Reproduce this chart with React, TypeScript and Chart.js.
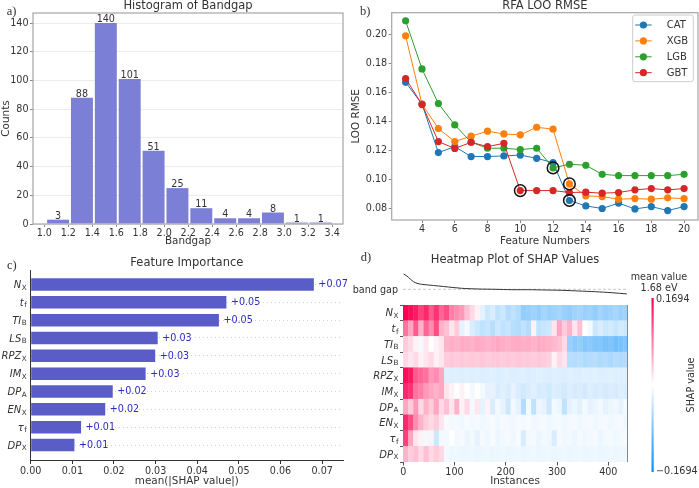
import React, { useEffect, useRef } from 'react';
import { Chart, registerables } from 'chart.js';

Chart.register(...registerables);

const SANS = '"DejaVu Sans", Verdana, sans-serif';
const SERIF = '"Liberation Serif", "DejaVu Serif", serif';
const INK = '#333333';

// ---------- a) Histogram of Bandgap ----------
const binCenters = [1.115, 1.314, 1.513, 1.712, 1.911, 2.11, 2.309, 2.508, 2.707, 2.906, 3.105, 3.304];
const binCounts = [3, 88, 140, 101, 51, 25, 11, 4, 4, 8, 1, 1];

// ---------- b) RFA LOO RMSE ----------
const featureNumbers = [3, 4, 5, 6, 7, 8, 9, 10, 11, 12, 13, 14, 15, 16, 17, 18, 19, 20];
const rmseCAT = [0.167, 0.152, 0.1187, 0.1228, 0.116, 0.116, 0.1164, 0.117, 0.1148, 0.1118, 0.0858, 0.0821, 0.0803, 0.084, 0.08, 0.0816, 0.0789, 0.0816];
const rmseXGB = [0.1989, 0.152, 0.1352, 0.1263, 0.13, 0.1334, 0.1315, 0.1309, 0.1361, 0.1348, 0.0972, 0.089, 0.0885, 0.0867, 0.0871, 0.0867, 0.0876, 0.0871];
const rmseLGB = [0.2092, 0.1762, 0.1524, 0.1377, 0.1258, 0.1217, 0.1217, 0.1208, 0.1217, 0.1082, 0.1107, 0.11, 0.1038, 0.1029, 0.1029, 0.1029, 0.1029, 0.1038];
const rmseGBT = [0.1696, 0.1517, 0.1263, 0.1215, 0.1258, 0.1228, 0.1251, 0.0926, 0.0926, 0.0926, 0.0913, 0.0915, 0.0908, 0.0913, 0.0931, 0.094, 0.0931, 0.094];
const modelNames = ['CAT', 'XGB', 'LGB', 'GBT'];
const modelColors = ['#1f77b4', '#ff7f0e', '#2ca02c', '#d62728'];
const selectedFeatureNumbers = [13, 13, 12, 10];

// ---------- c) Feature Importance ----------
const featureBase = ['N', 't', 'TI', 'LS', 'RPZ', 'IM', 'DP', 'EN', 'τ', 'DP'];
const featureSub = ['X', 'f', 'B', 'B', 'X', 'X', 'A', 'X', 'f', 'X'];
const importanceValues = [0.068, 0.047, 0.0452, 0.0305, 0.0299, 0.0276, 0.0197, 0.0179, 0.0121, 0.0105];

// ---------- d) Heatmap of SHAP values (blocks of 10 instances, value in % of 0.1694) ----------
const instanceCount = 437;
const heatBlockSize = 10;
const shapRange = 0.1694;
const meanBandgap = 1.68;
const outputInstance = [0.6, 7, 13.7, 20, 26.7, 36, 49, 69, 88, 114, 147, 179.5, 212, 244.5, 277, 309.6, 342, 374.6, 407, 436];
const outputBandgap = [2.445, 2.345, 2.195, 2.06, 1.98, 1.93, 1.895, 1.845, 1.795, 1.73, 1.695, 1.68, 1.66, 1.66, 1.645, 1.63, 1.595, 1.56, 1.51, 1.45];

const heatNx = [100, 95, 90, 75, 85, 65, 80, 60, 70, 50, 45, 40, 25, 15, 5, -10, -20, -15, -25, -20, -30, -25, -30, -42, -40, -38, -42, -36, -40, -38, -35, -40, -42, -38, -36, -40, -38, -42, -36, -40, -38, -35, -40, -38];
const heatTf = [55, 35, 65, 30, 60, 45, 70, 30, 25, 10, 20, -10, -5, -15, -20, -25, -22, -28, -20, -25, -22, -28, -30, -25, -30, 5, -25, -22, -20, 10, 35, 20, 30, 10, 25, 0, -5, -20, -15, -20, -18, -22, -18, -20];
const heatTI = [20, 15, 5, -5, 10, 0, 5, 10, 30, 32, 30, 33, 32, 30, 33, 32, 30, 32, 34, 32, 30, 32, 33, 31, 32, 30, 33, 32, 30, 28, 25, 15, -40, -45, -42, -48, -45, -50, -48, -52, -50, -55, -52, -50];
const heatLS = [15, 10, 15, 5, 10, 15, 5, 10, 20, 22, 20, 22, 20, 21, 20, 22, 20, 21, 22, 20, 21, 20, 22, 20, 21, 20, 22, 20, 18, 5, 15, 10, -28, -30, -28, -32, -30, -28, -32, -30, -33, -30, -32, -30];
const heatRPZ = [95, 90, 65, 60, 55, 40, 45, 35, -12, -13, -12, -14, -12, -13, -12, -14, -13, -12, -14, -13, -12, -14, -13, -12, -14, -13, -12, -13, -14, -12, -13, -14, -12, -13, -14, -12, -13, -12, -14, -13, -12, -14, -13, -12];
const heatIM = [85, 80, 55, 50, 40, 35, 30, 35, 10, 5, 0, 5, 0, -5, 0, -5, -10, -10, -15, -12, -15, -10, -15, -18, -15, -12, -16, -15, -18, -14, -15, -17, -14, -16, -15, -18, -14, -16, -15, -17, -15, -16, -14, -15];
const heatDPA = [35, 20, 40, 15, 30, 20, 35, 15, 25, 10, 30, 5, 15, -5, 10, -10, 5, -15, -5, -10, -20, -5, -10, -30, -5, -25, -8, -10, -20, -5, -8, -25, -10, -8, -12, -5, -10, -8, -5, -10, -8, -6, -10, -5];
const heatEN = [85, 70, 45, 30, 20, 15, 20, 10, -3, -5, -4, -6, -3, -5, -4, -6, -5, -3, -6, -4, -5, -6, -4, -5, -3, -6, -5, -4, -6, -5, -4, -6, -5, -4, -6, -5, -4, -6, -5, -4, -6, -5, -4, -6];
const heatTau = [75, 35, 10, 5, -5, 5, -20, -5, -5, 0, -5, -3, -8, -5, -10, -4, -6, -3, -8, -5, -4, -6, -3, -15, -5, -4, -8, -5, -6, -15, -4, -6, -5, -8, -4, -6, -5, -4, -8, -5, -4, -6, -5, -4];
const heatDPX = [30, 20, 25, 15, 25, 15, 20, 15, -5, -7, -6, -8, -7, -6, -8, -7, -6, -8, -7, -6, -8, -7, -6, -8, -7, -6, -8, -7, -6, -8, -7, -6, -8, -7, -6, -8, -7, -6, -8, -7, -6, -8, -7, -6];
const heatRows = [heatNx, heatTf, heatTI, heatLS, heatRPZ, heatIM, heatDPA, heatEN, heatTau, heatDPX];

// ---------- helpers ----------
function shapColor(v: number): string {
  const t = Math.max(-1, Math.min(1, v));
  let r: number, g: number, b: number;
  if (t >= 0) {
    r = 255; g = 255 - 255 * t; b = 255 - 173 * t;
  } else {
    const s = -t;
    r = 255 - 255 * s; g = 255 - 117 * s; b = 255 - 5 * s;
  }
  return `rgb(${Math.round(r)},${Math.round(g)},${Math.round(b)})`;
}

function tickFont(size = 9.6) {
  return { family: SANS, size };
}

function drawSubLabel(ctx: CanvasRenderingContext2D, base: string, sub: string, xRight: number, yMid: number, size: number) {
  ctx.save();
  ctx.fillStyle = INK;
  ctx.textBaseline = 'alphabetic';
  ctx.textAlign = 'left';
  const subSize = size * 0.72;
  ctx.font = `italic ${size}px ${SANS}`;
  const wb = ctx.measureText(base).width;
  ctx.font = `${subSize}px ${SANS}`;
  const ws = ctx.measureText(sub).width;
  const x0 = xRight - wb - ws - 0.5;
  ctx.font = `italic ${size}px ${SANS}`;
  ctx.fillText(base, x0, yMid + size * 0.36);
  ctx.font = `${subSize}px ${SANS}`;
  ctx.fillText(sub, x0 + wb + 0.5, yMid + size * 0.36 + 1.6);
  ctx.restore();
}

function headerPlugin(title: string, letter: string, titleBaseline: number, letterX: number, letterBaseline: number) {
  return {
    id: 'header',
    afterDraw(chart: any) {
      const { ctx, chartArea } = chart;
      ctx.save();
      ctx.fillStyle = INK;
      ctx.textAlign = 'center';
      ctx.textBaseline = 'alphabetic';
      ctx.font = `11.5px ${SANS}`;
      ctx.fillText(title, (chartArea.left + chartArea.right) / 2, titleBaseline);
      ctx.textAlign = 'left';
      ctx.font = `12.5px ${SERIF}`;
      ctx.fillText(letter, letterX, letterBaseline);
      ctx.restore();
    },
  };
}

const framePlugin = {
  id: 'frame',
  afterDatasetsDraw(chart: any) {
    const { ctx, chartArea } = chart;
    ctx.save();
    ctx.strokeStyle = '#a6a6a6';
    ctx.lineWidth = 1.2;
    ctx.strokeRect(chartArea.left, chartArea.top, chartArea.right - chartArea.left, chartArea.bottom - chartArea.top);
    ctx.restore();
  },
};

function ChartBox(props: { left: number; top: number; width: number; height: number; make: () => any }) {
  const ref = useRef<HTMLCanvasElement | null>(null);
  useEffect(() => {
    const chart = new Chart(ref.current as HTMLCanvasElement, props.make());
    return () => chart.destroy();
  }, []);
  return (
    <canvas
      ref={ref}
      width={props.width}
      height={props.height}
      style={{ position: 'absolute', left: props.left, top: props.top, width: props.width, height: props.height }}
    />
  );
}

// ---------- chart configs ----------
function makeHistogram() {
  return {
    type: 'bar',
    data: {
      datasets: [
        {
          data: binCenters.map((x, i) => ({ x, y: binCounts[i] })),
          backgroundColor: '#7b7fd6',
          borderWidth: 0,
          barPercentage: 0.92,
          categoryPercentage: 1,
        },
      ],
    },
    options: {
      responsive: false,
      animation: false,
      events: [],
      layout: { autoPadding: false, padding: { left: 0, right: 7, top: 13, bottom: 0 } },
      plugins: { legend: { display: false }, tooltip: { enabled: false } },
      scales: {
        x: {
          type: 'linear',
          offset: false,
          min: 0.906,
          max: 3.49,
          grid: { display: true, offset: false, drawOnChartArea: false, tickLength: 3, tickColor: '#888' },
          border: { display: false },
          ticks: {
            stepSize: 0.2, includeBounds: false, autoSkip: false, maxRotation: 0, padding: 1,
            color: INK, font: tickFont(), callback: (v: number) => Number(v).toFixed(1),
          },
          title: { display: true, text: 'Bandgap', color: INK, font: tickFont(10.4), padding: { top: 1.5, bottom: 0 } },
          afterFit: (s: any) => { s.height = 24; },
        },
        y: {
          type: 'linear',
          min: 0,
          max: 147,
          grid: { color: '#ececec', lineWidth: 1, tickLength: 3, tickColor: '#888' },
          border: { display: false },
          ticks: { stepSize: 20, includeBounds: false, padding: 1.5, color: INK, font: tickFont(), callback: (v: number) => String(v) },
          title: { display: true, text: 'Counts', color: INK, font: tickFont(10.4), padding: { top: 0, bottom: 0 } },
          afterFit: (s: any) => { s.width = 33; },
        },
      },
    },
    plugins: [
      framePlugin,
      {
        id: 'barValues',
        afterDatasetsDraw(chart: any) {
          const { ctx } = chart;
          const meta = chart.getDatasetMeta(0);
          ctx.save();
          ctx.fillStyle = INK;
          ctx.font = `9.6px ${SANS}`;
          ctx.textAlign = 'center';
          ctx.textBaseline = 'alphabetic';
          meta.data.forEach((el: any, i: number) => {
            ctx.fillText(String(binCounts[i]), el.x, el.y - 1);
          });
          ctx.restore();
        },
      },
      headerPlugin('Histogram of Bandgap', 'a)', 8.5, 6.7, 15),
    ],
  };
}

function makeRmse() {
  const series = [rmseCAT, rmseXGB, rmseLGB, rmseGBT];
  const lines = modelNames.map((name, m) => ({
    label: name,
    data: featureNumbers.map((n, i) => ({ x: n, y: series[m][i] })),
    borderColor: modelColors[m],
    backgroundColor: modelColors[m],
    pointBackgroundColor: modelColors[m],
    borderWidth: 1,
    pointRadius: 3.6,
    pointBorderWidth: 0,
    tension: 0,
    order: 5 - m,
  }));
  const circles = {
    label: 'selected',
    data: modelNames.map((_, m) => {
      const n = selectedFeatureNumbers[m];
      return { x: n, y: series[m][featureNumbers.indexOf(n)] };
    }),
    showLine: false,
    pointRadius: 5.8,
    pointBorderWidth: 1.5,
    pointBorderColor: '#111',
    pointBackgroundColor: 'rgba(0,0,0,0)',
    order: 0,
  };
  return {
    type: 'line',
    data: { datasets: [...lines, circles] },
    options: {
      responsive: false,
      animation: false,
      events: [],
      layout: { autoPadding: false, padding: { left: 0, right: 1, top: 12.7, bottom: 0 } },
      plugins: { legend: { display: false }, tooltip: { enabled: false } },
      scales: {
        x: {
          type: 'linear',
          min: 2.15,
          max: 20.85,
          grid: { display: true, drawOnChartArea: false, tickLength: 3, tickColor: '#888' },
          border: { display: false },
          ticks: { stepSize: 2, includeBounds: false, autoSkip: false, maxRotation: 0, padding: 1, color: INK, font: tickFont(), callback: (v: number) => String(v) },
          title: { display: true, text: 'Feature Numbers', color: INK, font: tickFont(10.4), padding: { top: 1.5, bottom: 0 } },
          afterFit: (s: any) => { s.height = 28; },
        },
        y: {
          type: 'linear',
          min: 0.0724,
          max: 0.2148,
          grid: { display: true, drawOnChartArea: false, tickLength: 3, tickColor: '#888' },
          border: { display: false },
          ticks: { stepSize: 0.02, includeBounds: false, padding: 1.5, color: INK, font: tickFont(), callback: (v: number) => Number(v).toFixed(2) },
          title: { display: true, text: 'LOO RMSE', color: INK, font: tickFont(10.4), padding: { top: 0.5, bottom: 0 } },
          afterFit: (s: any) => { s.width = 41.7; },
        },
      },
    },
    plugins: [
      framePlugin,
      {
        id: 'boxLegend',
        afterDraw(chart: any) {
          const { ctx, chartArea } = chart;
          const boxRight = chartArea.right - 4.7;
          const boxLeft = boxRight - 60.6;
          const boxTop = chartArea.top + 2.3;
          const rowH = 15.9;
          const boxH = 66.7;
          ctx.save();
          ctx.fillStyle = 'rgba(255,255,255,0.85)';
          ctx.strokeStyle = '#cccccc';
          ctx.lineWidth = 1;
          ctx.beginPath();
          ctx.roundRect(boxLeft, boxTop, boxRight - boxLeft, boxH, 2.5);
          ctx.fill();
          ctx.stroke();
          ctx.font = `10px ${SANS}`;
          ctx.textBaseline = 'middle';
          ctx.textAlign = 'left';
          modelNames.forEach((name, m) => {
            const y = boxTop + 10 + m * rowH;
            ctx.strokeStyle = modelColors[m];
            ctx.lineWidth = 1;
            ctx.beginPath();
            ctx.moveTo(boxLeft + 2.5, y);
            ctx.lineTo(boxLeft + 19, y);
            ctx.stroke();
            ctx.fillStyle = modelColors[m];
            ctx.beginPath();
            ctx.arc(boxLeft + 10.7, y, 3.6, 0, Math.PI * 2);
            ctx.fill();
            ctx.fillStyle = INK;
            ctx.fillText(name, boxLeft + 34, y + 0.5);
          });
          ctx.restore();
        },
      },
      headerPlugin('RFA LOO RMSE', 'b)', 9.3, 10, 15),
    ],
  };
}

function makeImportance() {
  return {
    type: 'bar',
    data: {
      datasets: [
        {
          data: importanceValues.map((v, i) => ({ x: v, y: i })),
          backgroundColor: '#5a5dc8',
          borderWidth: 0,
          barPercentage: 0.7,
          categoryPercentage: 1,
        },
      ],
    },
    options: {
      indexAxis: 'y',
      responsive: false,
      animation: false,
      events: [],
      layout: { autoPadding: false, padding: { left: 0, right: 7, top: 22, bottom: 0 } },
      plugins: { legend: { display: false }, tooltip: { enabled: false } },
      scales: {
        x: {
          type: 'linear',
          offset: false,
          min: 0,
          max: 0.075,
          grid: { display: true, drawOnChartArea: false, tickLength: 4, tickColor: INK },
          border: { display: true, color: INK, width: 1 },
          ticks: { stepSize: 0.01, includeBounds: false, autoSkip: false, maxRotation: 0, padding: 2, color: INK, font: tickFont(), callback: (v: number) => Number(v).toFixed(2) },
          title: { display: true, text: 'mean(|SHAP value|)', color: INK, font: tickFont(10.4), padding: { top: 0, bottom: 0 } },
          afterFit: (s: any) => { s.height = 28; },
        },
        y: {
          type: 'linear',
          reverse: true,
          offset: false,
          min: -0.81,
          max: 9.84,
          grid: { display: true, offset: false, color: '#c4c4c4', lineWidth: 0.8, drawTicks: false },
          border: { display: true, color: INK, width: 1, dash: [1, 3] },
          ticks: { display: false, stepSize: 1, includeBounds: false },
          afterFit: (s: any) => { s.width = 30.7; },
        },
      },
    },
    plugins: [
      {
        id: 'importanceLabels',
        afterDatasetsDraw(chart: any) {
          const { ctx, chartArea, scales } = chart;
          const meta = chart.getDatasetMeta(0);
          ctx.save();
          ctx.font = `9.6px ${SANS}`;
          ctx.fillStyle = '#2d2dc0';
          ctx.textAlign = 'left';
          ctx.textBaseline = 'middle';
          meta.data.forEach((el: any, i: number) => {
            ctx.fillText('+' + importanceValues[i].toFixed(2), el.x + 4.5, el.y + 0.5);
          });
          ctx.restore();
          featureBase.forEach((b, i) => {
            drawSubLabel(ctx, b, featureSub[i], chartArea.left - 4, scales.y.getPixelForValue(i), 10);
          });
        },
      },
      headerPlugin('Feature Importance', 'c)', 18, 7, 21),
    ],
  };
}

function makeHeatmap() {
  const cells: any[] = [];
  const colors: string[] = [];
  heatRows.forEach((row, r) => {
    row.forEach((v, k) => {
      const start = k * heatBlockSize - 0.5;
      const end = Math.min((k + 1) * heatBlockSize - 0.5, instanceCount - 0.5);
      cells.push({ y: r, x: [start, end + 0.7] });
      colors.push(shapColor(v / 100));
    });
  });
  return {
    type: 'bar',
    data: {
      datasets: [
        { data: cells, backgroundColor: colors, borderWidth: 0, barPercentage: 1.04, categoryPercentage: 1 },
      ],
    },
    options: {
      indexAxis: 'y',
      responsive: false,
      animation: false,
      events: [],
      layout: { autoPadding: false, padding: { left: 0, right: 72, top: 57, bottom: 0 } },
      plugins: { legend: { display: false }, tooltip: { enabled: false } },
      scales: {
        x: {
          type: 'linear',
          offset: false,
          min: -0.5,
          max: instanceCount - 0.5,
          grid: { display: true, drawOnChartArea: false, tickLength: 3.5, tickColor: '#555' },
          border: { display: false },
          ticks: { stepSize: 100, includeBounds: false, autoSkip: false, maxRotation: 0, padding: 1, color: INK, font: tickFont(), callback: (v: number) => String(v) },
          title: { display: true, text: 'Instances', color: INK, font: tickFont(10.4), padding: { top: 0, bottom: 0 } },
          afterFit: (s: any) => { s.height = 26; },
        },
        y: {
          type: 'linear',
          reverse: true,
          offset: false,
          min: -0.5,
          max: 9.5,
          grid: { display: true, offset: false, drawOnChartArea: false, tickLength: 3, tickColor: '#555' },
          border: { display: false },
          ticks: { display: false, stepSize: 1, includeBounds: false },
          afterFit: (s: any) => { s.width = 53; },
        },
      },
    },
    plugins: [
      {
        id: 'heatDecor',
        afterDraw(chart: any) {
          const { ctx, chartArea, scales } = chart;
          featureBase.forEach((b, i) => {
            drawSubLabel(ctx, b, featureSub[i], chartArea.left - 4.5, scales.y.getPixelForValue(i), 10);
          });
          ctx.save();
          ctx.strokeStyle = '#888';
          ctx.lineWidth = 1;
          ctx.beginPath();
          ctx.moveTo(chartArea.right + 0.5, chartArea.top);
          ctx.lineTo(chartArea.right + 0.5, chartArea.bottom);
          ctx.stroke();
          const cbX = chartArea.right + 24.5;
          const cbTop = chartArea.top - 7;
          const cbBottom = chartArea.bottom + 10;
          const grad = ctx.createLinearGradient(0, cbTop, 0, cbBottom);
          for (let s = 0; s <= 20; s++) {
            grad.addColorStop(s / 20, shapColor(1 - (2 * s) / 20));
          }
          ctx.fillStyle = grad;
          ctx.fillRect(cbX, cbTop, 2.2, cbBottom - cbTop);
          ctx.fillStyle = INK;
          ctx.font = `9.6px ${SANS}`;
          ctx.textAlign = 'left';
          ctx.textBaseline = 'middle';
          ctx.fillText(shapRange.toFixed(4), cbX + 4.5, cbTop + 1);
          ctx.fillText('\u2212' + shapRange.toFixed(4), cbX + 4.5, cbBottom - 0.5);
          ctx.textAlign = 'center';
          ctx.fillText('mean value', cbX + 7.5, 29.3);
          ctx.fillText(meanBandgap.toFixed(2) + ' eV', cbX + 7.5, 40.3);
          ctx.textAlign = 'right';
          ctx.fillText('band gap', chartArea.left - 5, 42.7);
          ctx.translate(cbX + 40.2, (cbTop + cbBottom) / 2);
          ctx.rotate(-Math.PI / 2);
          ctx.textAlign = 'center';
          ctx.fillText('SHAP value', 0, 0);
          ctx.restore();
        },
      },
      headerPlugin('Heatmap Plot of SHAP Values', 'd)', 15.3, 10.7, 12.7),
    ],
  };
}

function makeOutputStrip() {
  return {
    type: 'line',
    data: {
      datasets: [
        {
          data: outputInstance.map((x, i) => ({ x, y: outputBandgap[i] })),
          borderColor: '#333',
          borderWidth: 1,
          pointRadius: 0,
          tension: 0.3,
        },
        {
          data: [{ x: -0.5, y: meanBandgap }, { x: instanceCount - 0.5, y: meanBandgap }],
          borderColor: '#c8c8c8',
          borderWidth: 1,
          borderDash: [3, 2],
          pointRadius: 0,
        },
      ],
    },
    options: {
      responsive: false,
      animation: false,
      events: [],
      layout: { autoPadding: false, padding: { left: 53, right: 72, top: 10, bottom: 5 } },
      plugins: { legend: { display: false }, tooltip: { enabled: false } },
      scales: {
        x: { type: 'linear', display: false, min: -0.5, max: instanceCount - 0.5 },
        y: { type: 'linear', display: false, min: 1.295, max: 2.545 },
      },
    },
  };
}

export default function App() {
  return (
    <div style={{ position: 'fixed', left: 0, top: 0, width: 699, height: 488, background: '#ffffff', overflow: 'hidden' }}>
      <ChartBox left={0} top={0} width={350} height={248} make={makeHistogram} />
      <ChartBox left={350} top={0} width={349} height={248} make={makeRmse} />
      <ChartBox left={0} top={248} width={350} height={240} make={makeImportance} />
      <ChartBox left={350} top={248} width={349} height={240} make={makeHeatmap} />
      <ChartBox left={350} top={262} width={349} height={40} make={makeOutputStrip} />
    </div>
  );
}
